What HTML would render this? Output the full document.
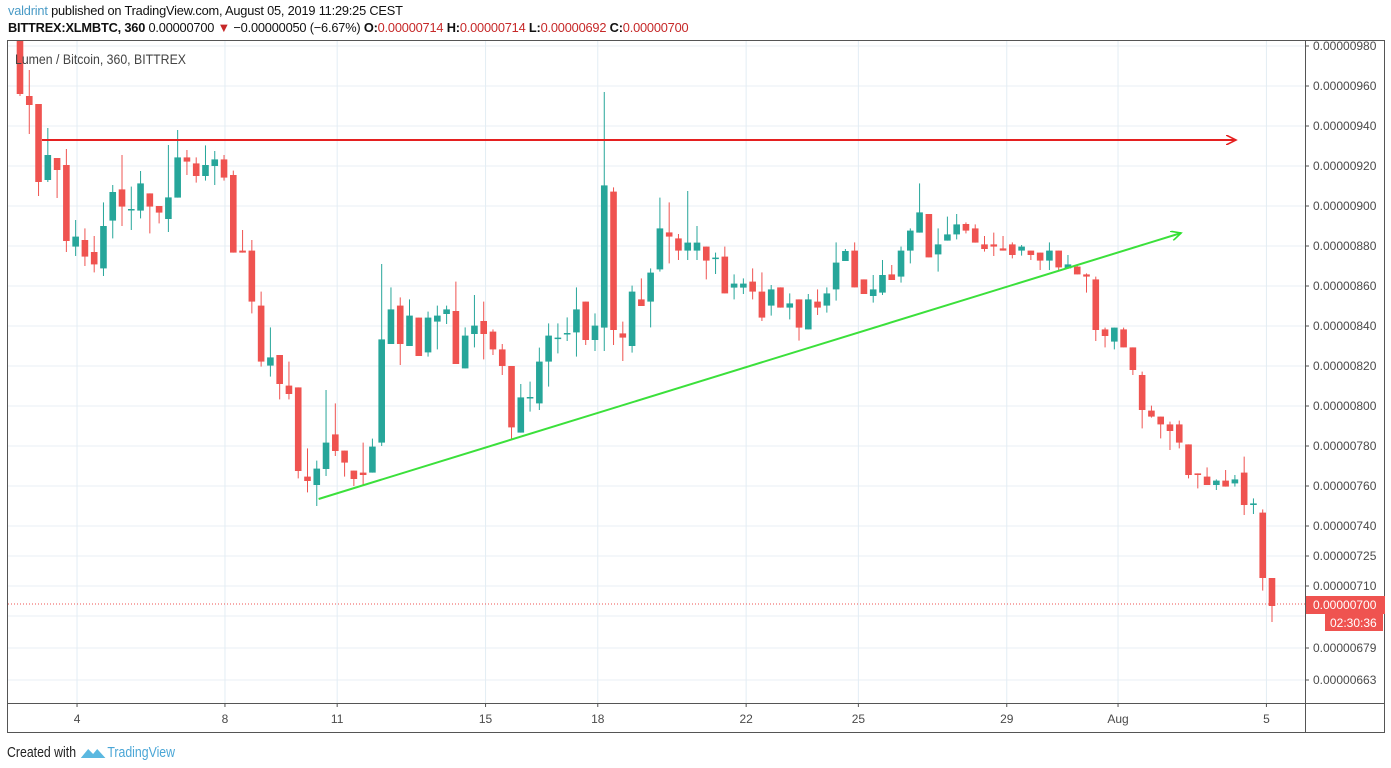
<!DOCTYPE html>
<html><head><meta charset="utf-8">
<style>
body{margin:0;background:#fff;width:1391px;height:768px;overflow:hidden;font-family:"Liberation Sans",sans-serif;}
#hdr1{position:absolute;left:8px;top:3px;font-size:13px;color:#111;letter-spacing:-0.2px;transform:scaleX(0.985);transform-origin:0 0;white-space:nowrap}
#hdr2{position:absolute;left:8px;top:20px;font-size:13px;color:#111;letter-spacing:-0.2px;transform:scaleX(0.985);transform-origin:0 0;white-space:nowrap}
.u{color:#4a9bc6}.r{color:#c62828}
#foot{position:absolute;left:7px;top:741px;font-size:15px;color:#222;transform:scaleX(0.82);transform-origin:0 0;white-space:nowrap}
#foot span{color:#4aa6d6}
svg{position:absolute;left:0;top:0}
</style></head><body>
<div id="hdr1"><span class="u">valdrint</span> published on TradingView.com, August 05, 2019 11:29:25 CEST</div>
<div id="hdr2"><b>BITTREX:XLMBTC, 360</b> 0.00000700 <span class="r">▼</span> −0.00000050 (−6.67%) <b>O:</b><span class="r">0.00000714</span> <b>H:</b><span class="r">0.00000714</span> <b>L:</b><span class="r">0.00000692</span> <b>C:</b><span class="r">0.00000700</span></div>
<svg id="chart" width="1391" height="768"></svg>
<div id="foot">Created with <svg width="34" height="16" style="position:relative;top:3px;left:0"><path d="M2 14 L11 5 L17 10 L22 5 L32 14 Z" fill="#5bb8e0"/></svg><span>TradingView</span></div>
<script>
const opens=[990,955,951,913,924,920.5,879.7,883,877,868.8,892.7,908.3,898,897.7,906.3,900,893.5,904.2,924.3,921.3,915,920,923.3,915.5,877.7,877.7,850.2,820.2,825.5,810.2,809.3,764.7,760.5,768.5,785.8,777.7,767.7,766.7,766.7,781.7,831,850.2,830,844.2,826.8,842.2,846,847.5,818.8,836,842.5,837.2,828.3,820,786.7,804.2,801.3,822.2,834,836.2,836.8,852.2,833,839.2,907.2,836.3,830,853.3,852.2,868.3,886.8,883.8,877.7,877.7,879.7,874,874.7,859.2,859.2,862.2,857.2,850.2,859.3,849.2,853.3,838.3,852.2,850.2,858.3,872.5,877.7,863.3,855,856.7,865.8,864.7,877.7,886.7,896,875.8,882.7,885.8,891,888.8,880.8,880.8,878.8,880.8,877.7,877.7,876.7,872.7,877.7,868.8,869.7,865.8,863.3,838.3,832.2,838.3,829.3,815.5,797.7,794.7,790.8,790.8,780.8,766.3,764.7,760.5,762.7,761.3,766.7,750.5,746.7,714];
const highs=[995,968,951,939,924,928.5,893,888.8,885,901.8,910.5,925.5,909.7,917.5,906.3,900,930.5,938,928,924.3,930.3,927.5,925.5,917.7,888,883,857.2,839.3,825.5,822.2,809.3,778.8,772.7,808,801.3,777.7,767.7,781.7,783.7,871,859.3,854.3,853.3,844.2,847.2,850.2,850.2,862.2,839.3,855.5,852.2,838.3,831,820,811,812.2,829.2,841.3,841.3,844.3,859.3,852.2,846.3,957,909.3,842.2,860.2,863.8,868.8,904.2,901.8,886,907.5,890,879.7,876.7,879.7,865.8,863.8,868.8,866.8,860.5,859.3,856.3,853.3,856,858.3,859.3,881.8,878.5,881.8,863.3,865.5,873,870.5,879.7,888.8,911.3,896,888.8,894.7,896,891.8,890.8,885,886.7,885,881.8,880.5,877.7,876.7,881.8,877.7,875.5,870,866.3,864.7,839.2,839.2,839.2,829.3,817.2,800.2,794.7,792.2,792.7,780.8,766.3,769.3,763.3,768,765.5,774.7,753.8,748.3,714];
const lows=[955,936,905,912,904,877,875,870,866.8,865,883.8,890,888,893.8,886.3,891.3,887,904.2,915.5,911.7,912.7,910.5,912.7,876.7,876.7,846.3,819.7,814.7,803.3,803.3,763.8,756.8,750,765,775,764.7,760,760,766.7,780,831,820.5,830,825,824.7,828.3,841,821,818.8,829.3,823.3,825.5,815.5,783.3,786.7,797.2,798,809.7,826.3,832.5,824.7,830.5,827.5,827.5,830.5,822.5,826.7,850,839.3,867.2,871.3,873,873,873,863.3,866,856.3,853.3,856,853.3,842.5,845.2,849.2,843.3,832.7,838.3,845.5,846.7,852.7,872.5,859.3,856,851.7,855.5,863,861.7,871.3,886.7,874.3,867.2,882.7,883.3,886.3,881.7,877.2,875,877.7,873.8,875.2,873,868,868,867.7,868.5,865.8,856.7,832.5,829.3,828.3,829.3,815.5,788.8,794.2,783.8,778,778.8,763.8,758.8,760.5,758,759.7,759.7,745.5,746,707.7,692];
const closes=[956,950.5,912,925.5,918,882.5,884.7,874.7,870.8,890,907,899.7,898.5,911.3,899.7,896.7,904.3,924.3,922.2,915,920.5,923.3,914.2,876.7,876.7,852.2,822.2,824.3,811,806,767.5,762.5,768.7,781.7,777.5,771.7,763.5,765.5,779.7,833.3,848.3,831,845.2,825,844.2,845.2,848.3,821,835.2,840.2,836,828.3,820,789.3,804.3,804.5,822.2,835.2,834.2,836.5,848.3,833,840.2,910.3,838,834.2,857.2,850,866.7,888.8,884.7,877.7,881.7,881.7,872.7,874.2,856.3,861.2,861.2,857.2,844.2,858.3,849.2,851.3,839.2,853.3,849.2,856.3,871.7,877.5,859.3,856,858.3,865.5,863,877.7,887.7,896.8,874.3,880.8,885.8,890.8,887.7,881.7,878.5,879.7,877.7,875.5,879.7,875.5,872.7,877.7,869.3,870.8,865.8,864.7,838,835,839.2,829.3,818,798,794.7,790.8,787.5,781.7,765.5,765.5,760.5,762.7,759.7,763.3,750.5,751.3,714,700];
const priceTicks=[980,960,940,920,900,880,860,840,820,800,780,760,740,725,710,695,679,663];
const dateLabels=["4","8","11","15","18","22","25","29","Aug","5"];
const dateIdx=[6.15,22.1,34.2,50.2,62.3,78.3,90.4,106.4,118.4,134.4];
const resistance=933;
const supportStart=[32.2,753.5];
const supportEnd=[125.2,886.5];

const NS="http://www.w3.org/2000/svg";
const svg=document.getElementById('chart');
const L=8,R=1305,T=41,B=703;
const yS=p=>46+(980-p)*2;
const xS=i=>20+i*9.274;
function mk(tag,a,parent){const e=document.createElementNS(NS,tag);for(const k in a)e.setAttribute(k,a[k]);(parent||svg).appendChild(e);return e;}
const defs=mk('defs',{});
const cp=mk('clipPath',{id:'clip'},defs);mk('rect',{x:L,y:T,width:R-L,height:B-T},cp);
const mr=mk('marker',{id:'arR',markerWidth:12,markerHeight:10,refX:10,refY:5,orient:'auto',markerUnits:'userSpaceOnUse'},defs);
mk('path',{d:'M0 0 L10 5 L0 10',fill:'none',stroke:'#e52020','stroke-width':1.6},mr);
const mg=mk('marker',{id:'arG',markerWidth:12,markerHeight:10,refX:10,refY:5,orient:'auto',markerUnits:'userSpaceOnUse'},defs);
mk('path',{d:'M0 0 L10 5 L0 10',fill:'none',stroke:'#2ee02e','stroke-width':1.6},mg);

const grid=mk('g',{});


priceTicks.forEach(p=>{const y=yS(p);mk('line',{x1:L,x2:R,y1:y,y2:y,stroke:'#eaeff4','stroke-width':1},grid);});
dateIdx.forEach(d=>{const x=xS(d);mk('line',{x1:x,x2:x,y1:T,y2:B,stroke:'#e3edf4','stroke-width':1},grid);});

const cg=mk('g',{'clip-path':'url(#clip)'});


for(let i=0;i<opens.length;i++){
  const up=closes[i]>=opens[i];const col=up?'#26a69a':'#ef5350';const x=xS(i);
  const g=mk('g',{},cg);
  
  
  mk('line',{x1:x,x2:x,y1:yS(highs[i]),y2:yS(lows[i]),stroke:col,'stroke-width':1},g);
  const t=yS(Math.max(opens[i],closes[i])),b=yS(Math.min(opens[i],closes[i]));
  mk('rect',{x:x-3.3,y:t,width:6.6,height:Math.max(1.5,b-t),fill:col},g);
}
const lp=mk('line',{x1:L,x2:R,y1:yS(closes[closes.length-1])-2,y2:yS(closes[closes.length-1])-2,stroke:'#ef5350','stroke-width':1,'stroke-dasharray':'1 2'});


const rl=mk('line',{x1:42,x2:1236,y1:yS(resistance),y2:yS(resistance),stroke:'#e52020','stroke-width':2,'marker-end':'url(#arR)'});


const gl=mk('line',{x1:xS(supportStart[0]),y1:yS(supportStart[1]),x2:xS(supportEnd[0]),y2:yS(supportEnd[1]),stroke:'#3be03b','stroke-width':2,'marker-end':'url(#arG)'});


const lt=mk('text',{x:15,y:64,'font-size':14,fill:'#444','font-family':'Liberation Sans, sans-serif',transform:'translate(15 0) scale(0.88 1) translate(-15 0)'});
lt.textContent='Lumen / Bitcoin, 360, BITTREX';


mk('rect',{x:7.5,y:40.5,width:1377,height:692,fill:'none',stroke:'#555','stroke-width':1});
mk('line',{x1:R+0.5,x2:R+0.5,y1:40,y2:733,stroke:'#555'});
mk('line',{x1:7,x2:1385,y1:B+0.5,y2:B+0.5,stroke:'#555'});
priceTicks.forEach(p=>{
  if(p===695)return;
  const y=yS(p);
  mk('line',{x1:R,x2:R+4,y1:y,y2:y,stroke:'#555'});
  const t=mk('text',{x:1313,y:y+4,'font-size':12,fill:'#4a4a4a','font-family':'Liberation Sans, sans-serif'});
  t.textContent='0.00000'+String(p);
  
  
});
const ly=yS(closes[closes.length-1]);
mk('rect',{x:1306,y:ly-10,width:79,height:18,fill:'#ef5350'});
const lpt=mk('text',{x:1313,y:ly+3,'font-size':12,fill:'#fff','font-family':'Liberation Sans, sans-serif'});
lpt.textContent='0.00000700';


mk('rect',{x:1325,y:ly+8,width:58,height:17,fill:'#ef5350'});
const cd=mk('text',{x:1330,y:ly+21,'font-size':12,fill:'#fff','font-family':'Liberation Sans, sans-serif'});
cd.textContent='02:30:36';


dateIdx.forEach((d,k)=>{
  const x=xS(d);
  mk('line',{x1:x,x2:x,y1:B,y2:B+4,stroke:'#555'});
  const t=mk('text',{x:x,y:723,'font-size':12,fill:'#4a4a4a','text-anchor':'middle','font-family':'Liberation Sans, sans-serif'});
  t.textContent=dateLabels[k];
  
  
});
</script>
</body></html>
